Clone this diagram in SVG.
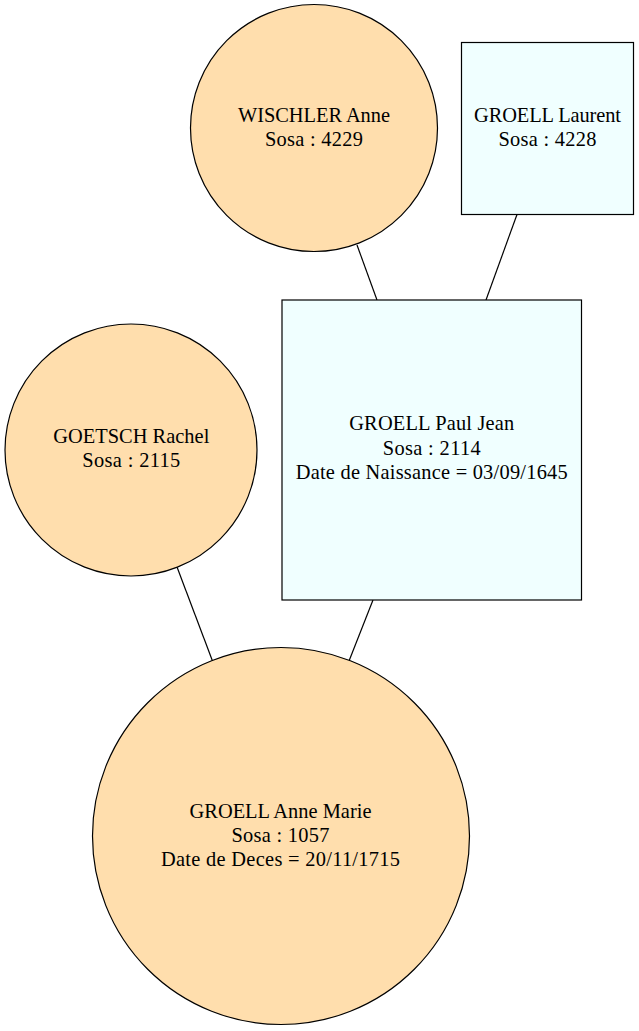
<svg xmlns="http://www.w3.org/2000/svg" width="639" height="1031" viewBox="0 0 639 1031">
<style>
.f{fill:#FFDEAD;stroke:#000;stroke-width:1.2}
.m{fill:#F0FFFF;stroke:#000;stroke-width:1.2}
.e{stroke:#000;stroke-width:1.2;fill:none}
text{font-family:"Liberation Serif","Times New Roman",serif;font-size:20.4px;text-anchor:middle;fill:#000}
</style>
<rect width="639" height="1031" fill="#fff"/>
<g id="edges">
<line class="e" x1="357" y1="245" x2="377" y2="300"/>
<line class="e" x1="517" y1="214.5" x2="486" y2="300"/>
<line class="e" x1="177" y1="567" x2="212.5" y2="661"/>
<line class="e" x1="373" y1="600" x2="349" y2="661"/>
</g>
<g id="wischler">
<circle class="f" cx="314" cy="128" r="123.5"/>
<text x="314" y="121.5" textLength="152" lengthAdjust="spacing">WISCHLER Anne</text>
<text x="314" y="146" textLength="98" lengthAdjust="spacing">Sosa : 4229</text>
</g>
<g id="laurent">
<rect class="m" x="461.5" y="42.5" width="172" height="172"/>
<text x="547.5" y="121.5" textLength="147" lengthAdjust="spacing">GROELL Laurent</text>
<text x="547.5" y="145.5" textLength="98" lengthAdjust="spacing">Sosa : 4228</text>
</g>
<g id="pauljean">
<rect class="m" x="282" y="300" width="299.5" height="300"/>
<text x="431.7" y="430" textLength="165" lengthAdjust="spacing">GROELL Paul Jean</text>
<text x="431.7" y="454.5" textLength="98" lengthAdjust="spacing">Sosa : 2114</text>
<text x="431.7" y="478.5" textLength="272" lengthAdjust="spacing">Date de Naissance = 03/09/1645</text>
</g>
<g id="goetsch">
<circle class="f" cx="131" cy="450" r="126"/>
<text x="131.3" y="443.3" textLength="156" lengthAdjust="spacing">GOETSCH Rachel</text>
<text x="131.3" y="466.7" textLength="98" lengthAdjust="spacing">Sosa : 2115</text>
</g>
<g id="annemarie">
<circle class="f" cx="281" cy="836" r="188.5"/>
<text x="280.5" y="817.7" textLength="182" lengthAdjust="spacing">GROELL Anne Marie</text>
<text x="280.5" y="841.7" textLength="98" lengthAdjust="spacing">Sosa : 1057</text>
<text x="280.5" y="866" textLength="239" lengthAdjust="spacing">Date de Deces = 20/11/1715</text>
</g>
</svg>
